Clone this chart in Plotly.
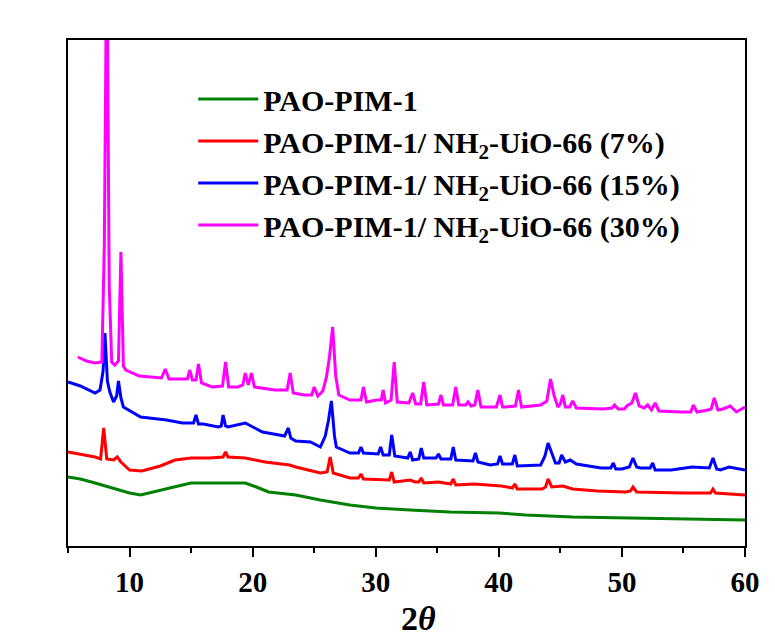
import plotly.graph_objects as go

# 2-theta positions and intensities (a.u., offset-stacked as in the figure)
x_pim = [5, 6, 7.2, 8.5, 10.0, 10.9, 12.5, 14.3, 15.0, 17.0, 19.4, 20.3, 21.3, 23.5, 25.5, 27.9, 30.0, 32.8, 36.0, 40.0, 42.2, 46.0, 51.5, 55.0, 60]
y_pim = [69, 67, 63, 58, 53, 51, 56, 61, 63, 63, 63, 59, 54, 51, 46, 41, 38, 36, 34, 33, 31, 29, 28, 27, 26]

x_7 = [5, 6.2, 7.2, 7.65, 7.9, 8.15, 8.7, 9.0, 9.3, 10.0, 11.0, 12.5, 13.7, 15.0, 16.5, 17.6, 17.8, 18.0, 19.4, 21.0, 23.0,
       23.5, 25.5, 26.05, 26.3, 26.55, 27.9, 28.6, 28.8, 29.0, 30.4, 31.1, 31.3, 31.5, 32.8, 33.2, 33.5, 33.7, 33.9, 35.1,
       36.1, 36.3, 36.5, 38.0, 40.2, 41.1, 41.3, 41.5, 42.2, 43.5, 43.8, 44.0, 44.3, 45.2, 46.0, 48.0, 50.3, 50.7, 50.9,
       51.2, 55.0, 57.2, 57.4, 57.6, 60]
y_7 = [94, 91, 89, 87, 118, 87, 86, 89, 84, 76, 75, 80, 86, 88, 88, 89, 94, 89, 88, 84, 81,
       79, 73, 74, 89, 73, 68, 68, 72, 67, 66, 66, 74, 64, 66, 64, 64, 68, 63, 64,
       62, 67, 61, 62, 60, 58, 62, 57, 57, 57, 59, 67, 59, 60, 57, 55, 54, 55, 59,
       54, 53, 53, 57, 53, 51]

x_15 = [5, 6.0, 7.2, 7.6, 7.85, 8.0, 8.2, 8.4, 8.7, 8.95, 9.1, 9.3, 9.5, 10.9, 13.0, 14.3, 15.2, 15.4, 15.6, 16.0,
        17.2, 17.45, 17.6, 17.8, 18.0, 19.4, 20.8, 22.6, 22.9, 23.1, 23.5, 24.7, 25.5, 25.9, 26.15, 26.4, 26.65, 26.8,
        27.9, 28.6, 28.8, 29.0, 30.2, 30.4, 30.6, 31.1, 31.3, 31.55, 32.6, 32.8, 33.0, 33.5, 33.7, 33.9, 34.9, 35.1,
        35.3, 36.1, 36.3, 36.5, 37.9, 38.1, 38.3, 39.3, 39.9, 40.1, 40.3, 41.1, 41.3, 41.5, 43.4, 43.75, 44.0, 44.3,
        44.6, 44.9, 45.1, 45.4, 45.8, 46.3, 48.3, 49.1, 49.3, 49.5, 50.0, 50.6, 50.9, 51.2, 51.5, 52.3, 52.5, 52.7,
        54.0, 55.7, 57.1, 57.4, 57.7, 58.0, 58.7, 60]
y_15 = [164, 160, 153, 156, 175, 213, 165, 154, 144, 150, 165, 148, 139, 129, 126, 123, 123, 131, 122, 122,
        119, 120, 131, 120, 119, 123, 114, 110, 118, 108, 105, 104, 99, 110, 125, 145, 110, 99,
        93, 93, 99, 93, 92, 99, 91, 91, 111, 90, 88, 94, 86, 87, 98, 88, 88, 92,
        87, 87, 99, 86, 85, 93, 84, 81, 82, 90, 82, 82, 91, 80, 81, 90, 103, 92,
        83, 83, 91, 84, 86, 82, 78, 78, 83, 77, 77, 79, 88, 79, 78, 78, 83, 76,
        76, 79, 78, 88, 77, 76, 79, 76]

x_30 = [5.8, 6.5, 7.2, 7.75, 7.95, 8.1, 8.2, 8.35, 8.55, 8.8, 9.1, 9.3, 9.5, 9.7, 10.8, 12.6, 12.9, 13.2, 14.3, 14.7,
        14.9, 15.1, 15.4, 15.6, 15.85, 16.7, 17.55, 17.8, 18.05, 18.8, 19.2, 19.4, 19.65, 19.9, 20.15, 21.8, 22.8,
        23.05, 23.3, 24.2, 24.8, 25.0, 25.3, 25.7, 26.0, 26.25, 26.5, 26.75, 27.0, 27.9, 28.8, 29.0, 29.25, 30.1,
        30.45, 30.6, 30.8, 31.25, 31.5, 31.75, 32.7, 33.0, 33.25, 33.65, 33.9, 34.15, 35.1, 35.3, 35.5, 36.25, 36.5,
        36.75, 37.3, 37.5, 37.75, 38.05, 38.3, 38.55, 39.8, 40.1, 40.3, 40.55, 41.35, 41.6, 41.85, 43.4, 43.9, 44.2,
        44.5, 44.8, 45.0, 45.2, 45.4, 45.75, 46.0, 46.3, 48.5, 49.2, 49.4, 49.7, 50.2, 50.4, 50.8, 51.1, 51.4, 51.8,
        52.1, 52.4, 52.7, 53.0, 54.8, 55.6, 55.8, 56.1, 57.0, 57.25, 57.5, 57.8, 58.2, 58.8, 59.3, 60]
y_30 = [189, 185, 183, 184, 300, 530, 530, 260, 184, 181, 185, 294, 180, 176, 170, 168, 177, 167, 167, 167,
        176, 166, 166, 182, 163, 159, 160, 184, 159, 159, 161, 173, 161, 173, 159, 156, 156,
        173, 153, 151, 151, 159, 150, 155, 169, 190, 219, 170, 151, 146, 146, 159, 144, 146,
        146, 156, 143, 146, 184, 144, 143, 153, 142, 142, 164, 141, 142, 151, 141, 141, 159,
        141, 141, 144, 140, 141, 156, 139, 139, 151, 139, 139, 140, 156, 139, 141, 145, 167,
        150, 139, 142, 151, 139, 139, 145, 138, 137, 138, 141, 137, 137, 140, 143, 153, 140, 138,
        141, 136, 143, 135, 134, 134, 141, 134, 136, 137, 148, 136, 137, 140, 134, 139]

names = ["<b>PAO-PIM-1</b>",
         "<b>PAO-PIM-1/ NH<sub>2</sub>-UiO-66 (7%)</b>",
         "<b>PAO-PIM-1/ NH<sub>2</sub>-UiO-66 (15%)</b>",
         "<b>PAO-PIM-1/ NH<sub>2</sub>-UiO-66 (30%)</b>"]
colors = ["#008000", "#FF0000", "#0000FF", "#FF00FF"]
series = [(x_pim, y_pim), (x_7, y_7), (x_15, y_15), (x_30, y_30)]
x_title = "<b>2<i>θ</i></b>"

fig = go.Figure()
for (xs, ys), nm, c in zip(series, names, colors):
    assert len(xs) == len(ys)
    fig.add_trace(go.Scatter(x=xs, y=ys, mode="lines", name=nm,
                             line=dict(color=c, width=3)))

serif = "Liberation Serif, Times New Roman, serif"
fig.update_layout(
    width=775, height=639,
    margin=dict(l=68, r=30, t=40, b=93),
    paper_bgcolor="white", plot_bgcolor="white",
    showlegend=True,
    legend=dict(x=0.185, y=0.935, xanchor="left", yanchor="top",
                bgcolor="rgba(0,0,0,0)", borderwidth=0, itemwidth=60,
                font=dict(family=serif, size=30, color="black"),
                tracegroupgap=0),
    font=dict(family=serif, color="black"),
)
fig.add_annotation(text=x_title, xref="paper", yref="paper", x=0.518, y=-0.143,
                   xanchor="center", yanchor="middle", showarrow=False,
                   font=dict(family=serif, size=34, color="black"))
fig.update_xaxes(
    range=[5, 60], tickmode="array", tickvals=[10, 20, 30, 40, 50, 60],
    ticktext=["<b>10</b>", "<b>20</b>", "<b>30</b>", "<b>40</b>", "<b>50</b>", "<b>60</b>"],
    ticks="outside", ticklen=9, tickwidth=2, tickcolor="black",
    minor=dict(tickvals=[5, 15, 25, 35, 45, 55], ticks="outside", ticklen=5, tickwidth=2, tickcolor="black"),
    showline=True, linewidth=2, linecolor="black", mirror=True,
    showgrid=False, zeroline=False, automargin=False,
    tickfont=dict(family=serif, size=29, color="black"),
)
fig.update_yaxes(
    range=[0, 506], showticklabels=False, ticks="",
    showline=True, linewidth=2, linecolor="black", mirror=True,
    showgrid=False, zeroline=False, automargin=False,
)

fig.write_html("out.html")
